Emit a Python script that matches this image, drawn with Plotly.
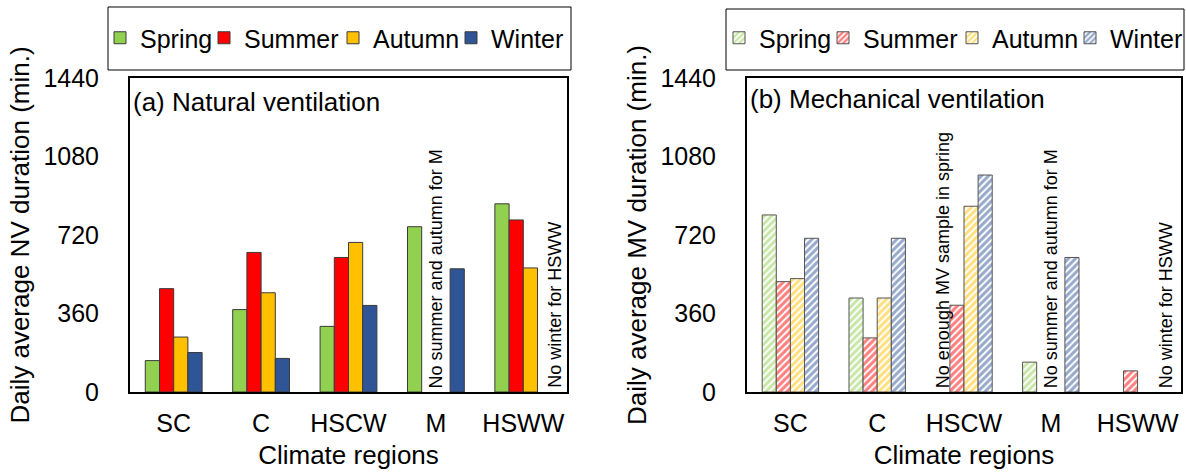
import plotly.graph_objects as go

regions = ["SC", "C", "HSCW", "M", "HSWW"]
seasons = ["Spring", "Summer", "Autumn", "Winter"]
colors = ["#92D050", "#FF0000", "#FFC000", "#2F5597"]

nv_spring = [144, 378, 301, 758, 863]
nv_summer = [474, 640, 617, None, 789]
nv_autumn = [252, 455, 686, None, 569]
nv_winter = [181, 154, 397, 565, None]

mv_spring = [812, 431, None, 137, None]
mv_summer = [506, 248, 398, None, 97]
mv_autumn = [520, 431, 852, None, None]
mv_winter = [705, 705, 995, 617, None]

yticks = [0, 360, 720, 1080, 1440]

nv = [nv_spring, nv_summer, nv_autumn, nv_winter]
mv = [mv_spring, mv_summer, mv_autumn, mv_winter]

# legend entry spacing (px), style only
legend_w = [59, 84, 73, 74]

FONT = "Arial, Liberation Sans, sans-serif"
W, H = 1186, 473

fig = go.Figure()
for s, c, vals, lw in zip(seasons, colors, nv, legend_w):
    fig.add_trace(go.Bar(
        x=regions, y=vals, name=s, xaxis="x", yaxis="y", legend="legend", legendwidth=lw,
        marker=dict(color=c, line=dict(color="#3a3a3a", width=1)),
    ))
for s, c, vals, lw in zip(seasons, colors, mv, legend_w):
    fig.add_trace(go.Bar(
        x=regions, y=vals, name=s, xaxis="x2", yaxis="y2", legend="legend2", legendwidth=lw,
        marker=dict(color="white", line=dict(color="#555555", width=1),
                    pattern=dict(shape="/", fgcolor=c, bgcolor="white", size=5, solidity=0.6)),
    ))

def px_x(p):
    return p / W

def px_y(p):
    return 1 - p / H

L0, L1 = px_x(130), px_x(567)
R0, R1 = px_x(747), px_x(1181)
B, T = px_y(392), px_y(78)

axis_common = dict(showline=True, linecolor="black", linewidth=2, mirror=True,
                   showgrid=False, zeroline=False, ticks="",
                   tickfont=dict(size=25, color="black", family=FONT))

xa = dict(type="category", **axis_common, ticklabelstandoff=8,
          title=dict(text="Climate regions", font=dict(size=26, family=FONT), standoff=10))
ya = dict(range=[0, 1440], tickvals=yticks, **axis_common, ticklabelstandoff=24)

fig.update_layout(
    width=W, height=H,
    margin=dict(l=0, r=0, t=0, b=0, autoexpand=False),
    paper_bgcolor="white", plot_bgcolor="white",
    font=dict(family=FONT, color="black"),
    barmode="group", bargap=0.35, bargroupgap=0,
    xaxis=dict(domain=[L0, L1], anchor="y", **xa),
    yaxis=dict(domain=[B, T], anchor="x", **ya,
               title=dict(text="Daily average NV duration (min.)", font=dict(size=26, family=FONT), standoff=6)),
    xaxis2=dict(domain=[R0, R1], anchor="y2", **xa),
    yaxis2=dict(domain=[B, T], anchor="x2", **ya,
                title=dict(text="Daily average MV duration (min.)", font=dict(size=26, family=FONT), standoff=6)),
    legend=dict(orientation="h", x=px_x(100), y=px_y(38), xanchor="left", yanchor="middle",
                font=dict(size=25, family=FONT), itemwidth=30, bgcolor="rgba(0,0,0,0)",
                traceorder="normal", tracegroupgap=0),
    legend2=dict(orientation="h", x=px_x(719), y=px_y(38), xanchor="left", yanchor="middle",
                 font=dict(size=25, family=FONT), itemwidth=30, bgcolor="rgba(0,0,0,0)",
                 traceorder="normal", tracegroupgap=0),
    shapes=[
        dict(type="rect", xref="paper", yref="paper", x0=px_x(108), x1=px_x(571), y0=px_y(70), y1=px_y(7),
             line=dict(color="black", width=1)),
        dict(type="rect", xref="paper", yref="paper", x0=px_x(726), x1=px_x(1184), y0=px_y(70), y1=px_y(9),
             line=dict(color="black", width=1)),
    ],
)

ann = []
ann.append(dict(text="(a) Natural ventilation", xref="paper", yref="paper", x=px_x(131), y=px_y(102),
                xanchor="left", yanchor="middle", showarrow=False, font=dict(size=26, family=FONT)))
ann.append(dict(text="(b) Mechanical ventilation", xref="paper", yref="paper", x=px_x(748), y=px_y(99),
                xanchor="left", yanchor="middle", showarrow=False, font=dict(size=26, family=FONT)))

vt = dict(textangle=-90, showarrow=False, yanchor="bottom", xanchor="center",
          font=dict(size=18, family=FONT), yshift=2)
ann.append(dict(text="No summer and autumn for M", xref="x", yref="y", x=3, y=0, **vt))
ann.append(dict(text="No winter for HSWW", xref="x", yref="y", x=4.36, y=0, **vt))
ann.append(dict(text="No enough MV sample in spring", xref="x2", yref="y2", x=1.76, y=0, **vt))
ann.append(dict(text="No summer and autumn for M", xref="x2", yref="y2", x=3, y=0, **vt))
ann.append(dict(text="No winter for HSWW", xref="x2", yref="y2", x=4.33, y=0, **vt))
fig.update_layout(annotations=ann)

fig.write_html("out.html", config={"displayModeBar": False},
               post_script="document.body.style.margin='0';document.body.style.overflow='hidden';")
